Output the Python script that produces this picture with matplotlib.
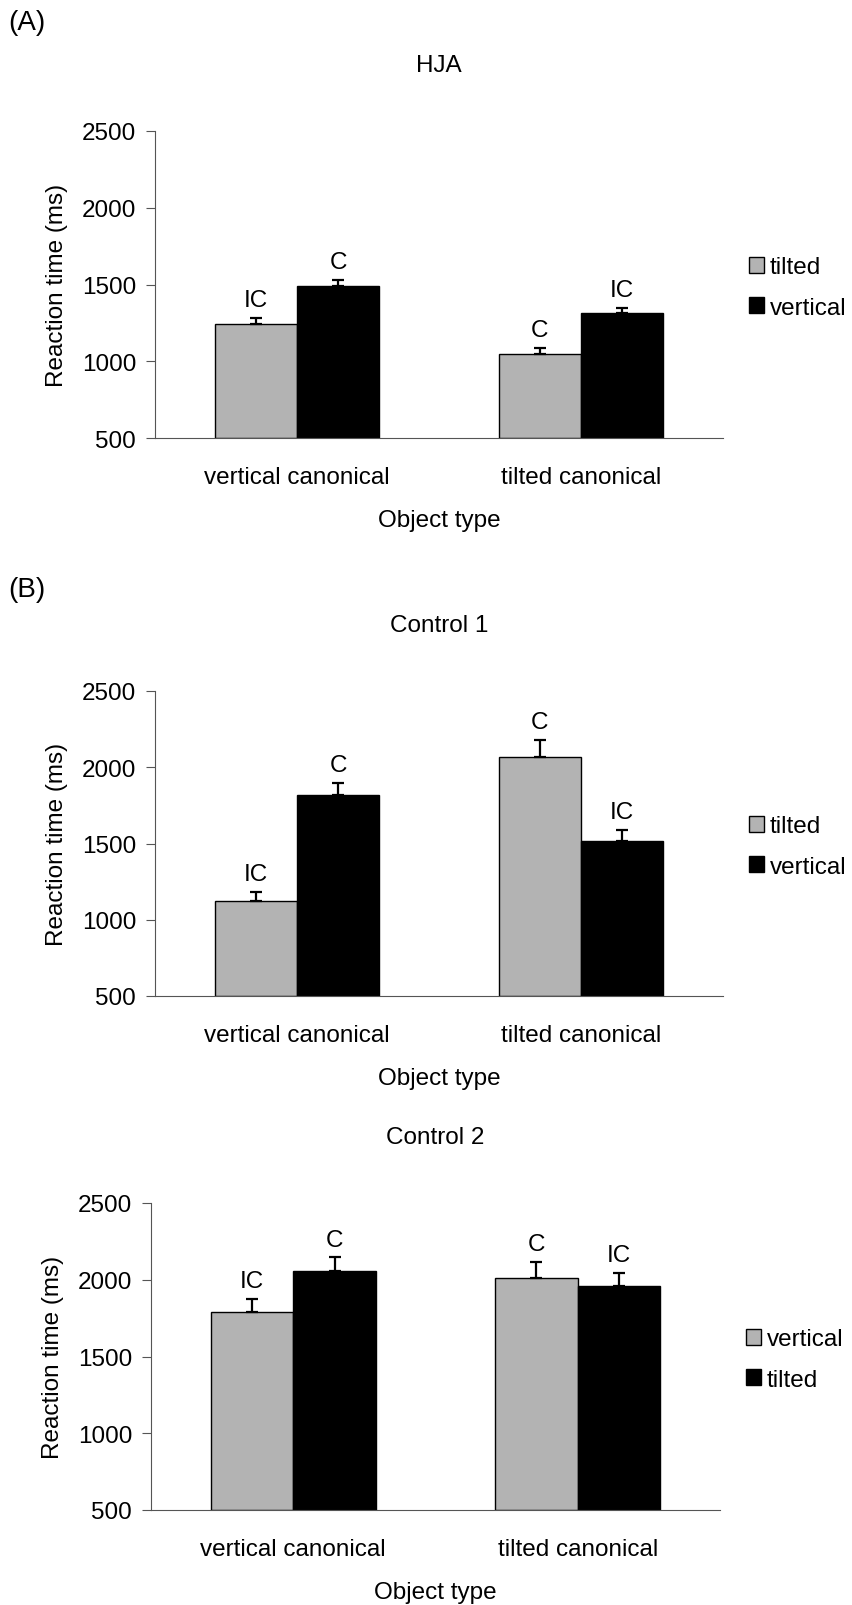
import numpy as np
import matplotlib.pyplot as plt
from matplotlib.patches import Patch

plt.rcParams['font.family'] = ['Liberation Sans', 'DejaVu Sans']

categories = ['vertical canonical', 'tilted canonical']

# panel A - HJA
hja_tilted = [1240, 1050]
hja_tilted_err = [40, 35]
hja_vertical = [1490, 1315]
hja_vertical_err = [40, 30]
hja_gray_marks = ['IC', 'C']
hja_black_marks = ['C', 'IC']

# panel B - Control 1
c1_tilted = [1120, 2070]
c1_tilted_err = [65, 110]
c1_vertical = [1815, 1515]
c1_vertical_err = [85, 75]
c1_gray_marks = ['IC', 'C']
c1_black_marks = ['C', 'IC']

# Control 2 (legend order swapped in the original)
c2_vertical = [1790, 2010]
c2_vertical_err = [85, 105]
c2_tilted = [2055, 1960]
c2_tilted_err = [90, 85]
c2_gray_marks = ['IC', 'C']
c2_black_marks = ['C', 'IC']

GRAY = '#b3b3b3'
FS = 17.5
W, H = 853, 1606

fig = plt.figure(figsize=(W / 100, H / 100), dpi=100)
fig.patch.set_facecolor('white')


def draw_panel(ax, title, gray, gray_err, black, black_err, labels, gray_marks, black_marks):
    x = np.arange(len(categories))
    bw = 0.29
    ax.bar(x - bw / 2, np.array(gray) - 500, bw, bottom=500, color=GRAY, edgecolor='black', linewidth=1)
    ax.bar(x + bw / 2, np.array(black) - 500, bw, bottom=500, color='black', edgecolor='black', linewidth=1)
    for xs, vals, err in [(x - bw / 2, gray, gray_err), (x + bw / 2, black, black_err)]:
        ax.errorbar(xs, vals, yerr=[np.zeros(len(err)), err], fmt='none', ecolor='black',
                    elinewidth=1.6, capsize=4.5, capthick=1.6)
    for xs, vals, err, marks in [(x - bw / 2, gray, gray_err, gray_marks),
                                 (x + bw / 2, black, black_err, black_marks)]:
        for xi, v, e, m in zip(xs, vals, err, marks):
            ax.annotate(m, (xi, v + e), xytext=(0, 5), textcoords='offset points',
                        ha='center', va='bottom', fontsize=FS)

    ax.set_xlim(-0.5, 1.5)
    ax.set_ylim(500, 2500)
    ax.set_yticks([500, 1000, 1500, 2000, 2500])
    ax.set_xticks(x)
    ax.set_xticklabels(categories, fontsize=FS)
    ax.tick_params(axis='x', length=0, pad=20)
    ax.tick_params(axis='y', length=6.5, width=0.8, color='#555555', pad=7, labelsize=FS)
    ax.set_xlabel('Object type', fontsize=FS, labelpad=15)
    ax.set_ylabel('Reaction time (ms)', fontsize=FS, labelpad=10)
    ax.set_title(title, fontsize=FS, pad=43)
    for s in ['top', 'right']:
        ax.spines[s].set_visible(False)
    for s in ['left', 'bottom']:
        ax.spines[s].set_color('#555555')
        ax.spines[s].set_linewidth(0.8)

    handles = [Patch(facecolor=GRAY, edgecolor='black', linewidth=1),
               Patch(facecolor='black', edgecolor='black', linewidth=1)]
    ax.legend(handles, labels, loc='center left', bbox_to_anchor=(1.046, 0.49), frameon=False,
              fontsize=FS, handlelength=0.6, handleheight=0.6, handletextpad=0.25,
              labelspacing=0.75, borderpad=0, borderaxespad=0)


def axes_px(left, top, right, bottom):
    return fig.add_axes([left / W, 1 - bottom / H, (right - left) / W, (bottom - top) / H])


ax1 = axes_px(155, 132, 723, 439)
draw_panel(ax1, 'HJA', hja_tilted, hja_tilted_err, hja_vertical, hja_vertical_err,
           ['tilted', 'vertical'], hja_gray_marks, hja_black_marks)

ax2 = axes_px(155, 692, 723, 997)
draw_panel(ax2, 'Control 1', c1_tilted, c1_tilted_err, c1_vertical, c1_vertical_err,
           ['tilted', 'vertical'], c1_gray_marks, c1_black_marks)

ax3 = axes_px(151, 1204, 720, 1511)
draw_panel(ax3, 'Control 2', c2_vertical, c2_vertical_err, c2_tilted, c2_tilted_err,
           ['vertical', 'tilted'], c2_gray_marks, c2_black_marks)

fig.text(8 / W, 1 - 23 / H, '(A)', fontsize=20, va='center', ha='left')
fig.text(8 / W, 1 - 590 / H, '(B)', fontsize=20, va='center', ha='left')

fig.savefig('out.png', dpi=100)
